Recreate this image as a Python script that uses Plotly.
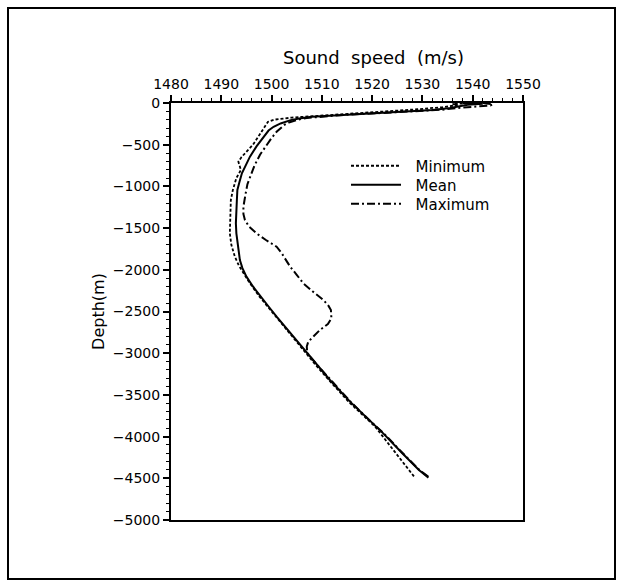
import plotly.graph_objects as go

# ---------------- data ----------------
mean_depth = [0, -10, -20, -40, -60, -85, -105, -125, -145, -165, -185, -205, -245, -285, -330,
              -404, -520, -643, -750, -843, -950, -1043, -1163, -1300, -1443, -1563, -1700,
              -1883, -1980, -2082, -2200, -2322, -2440, -2562, -2700, -2802, -2982, -3150,
              -3321, -3581, -3800, -3961, -4200, -4400, -4492]
mean_speed = [1538, 1542, 1539, 1537, 1535.5, 1532, 1526, 1518, 1512, 1508, 1505.5, 1503.8, 1501.8,
              1500.4, 1499.4, 1498.4, 1497.0, 1495.7, 1494.8, 1494.1, 1493.6, 1493.2, 1493.1,
              1493.0, 1492.9, 1493.0, 1493.3, 1493.7, 1494.2, 1495.0, 1496.3, 1497.8, 1499.4,
              1501.0, 1502.9, 1504.4, 1506.8, 1509.1, 1511.6, 1515.6, 1519.3, 1522.2, 1526.0,
              1529.3, 1531.2]

min_depth = [0, -12, -25, -50, -75, -100, -125, -150, -175, -200, -225, -260, -300, -400, -500,
             -584, -650, -704, -760, -803, -900, -1043, -1163, -1300, -1443, -1563, -1700,
             -1843, -1950, -2042, -2162, -2322, -2440, -2562, -2700, -2802, -2982, -3150,
             -3321, -3581, -3881, -4200, -4492]
min_speed = [1540, 1536, 1537, 1534, 1529, 1523, 1515, 1509, 1504, 1500.5, 1499.3, 1498.9, 1498.5,
             1497.4, 1496.3, 1495.0, 1494.0, 1493.4, 1493.7, 1493.9, 1493.0, 1492.3, 1491.9,
             1491.8, 1491.7, 1491.7, 1492.0, 1492.7, 1493.5, 1494.4, 1495.7, 1497.6, 1499.2,
             1500.8, 1502.7, 1504.2, 1506.6, 1508.9, 1511.4, 1515.3, 1520.6, 1524.7, 1528.5]

max_depth = [0, -15, -30, -45, -60, -80, -100, -120, -140, -160, -180, -200, -230, -260, -300,
             -345, -420, -525, -620, -750, -870, -973, -1100, -1243, -1330, -1403, -1480, -1563,
             -1640, -1723, -1800, -1880, -1963, -2060, -2162, -2260, -2362, -2430, -2482, -2582,
             -2650, -2722, -2800, -2862, -2920, -2962, -3000, -3150, -3321, -3581, -3800, -3961,
             -4200, -4400, -4492]
max_speed = [1542, 1544, 1543.5, 1540, 1537, 1534, 1529, 1522, 1515, 1510, 1507, 1505.2, 1503.6,
             1502.6, 1501.8, 1501.0, 1500.0, 1498.8, 1497.7, 1496.6, 1495.8, 1495.2, 1494.8,
             1494.4, 1494.4, 1494.7, 1495.5, 1497.0, 1498.8, 1501.0, 1502.0, 1502.8, 1503.7,
             1505.0, 1506.3, 1508.2, 1510.3, 1511.3, 1511.8, 1511.9, 1511.2, 1509.6, 1508.3,
             1507.3, 1507.0, 1507.0, 1507.1, 1509.2, 1511.7, 1515.7, 1519.4, 1522.3, 1526.1,
             1529.4, 1531.4]

x_ticks = [1480, 1490, 1500, 1510, 1520, 1530, 1540, 1550]
y_ticks = [0, -500, -1000, -1500, -2000, -2500, -3000, -3500, -4000, -4500, -5000]

FONT = "DejaVu Sans"

# plot-area geometry (px) used to place paper-relative items
PL, PR, PT, PB = 171, 523, 103, 520
W, H = 619, 581
def px(xp):
    return (xp - PL) / (PR - PL)
def py(yp):
    return (PB - yp) / (PB - PT)

fig = go.Figure()
fig.add_trace(go.Scatter(x=min_speed, y=min_depth, mode="lines", name="  Minimum", legend="legend",
                         line=dict(color="black", width=1.8, dash="3px,2px")))
fig.add_trace(go.Scatter(x=mean_speed, y=mean_depth, mode="lines", name="  Mean", legend="legend2",
                         line=dict(color="black", width=2)))
fig.add_trace(go.Scatter(x=max_speed, y=max_depth, mode="lines", name="  Maximum", legend="legend3",
                         line=dict(color="black", width=2, dash="8px,3px,2px,3px")))

leg_common = dict(xanchor="left", yanchor="middle", bgcolor="rgba(0,0,0,0)", borderwidth=0,
                  font=dict(family=FONT, size=15, color="black"), itemwidth=50)

fig.update_layout(
    width=W, height=H,
    margin=dict(l=PL, r=W - PR, t=PT, b=H - PB),
    paper_bgcolor="white", plot_bgcolor="white",
    font=dict(family=FONT, size=14, color="black"),
    showlegend=True,
    legend=dict(x=px(346), y=py(166), **leg_common),
    legend2=dict(x=px(346), y=py(185), **leg_common),
    legend3=dict(x=px(346), y=py(204), **leg_common),
    xaxis=dict(side="top", range=[1480, 1550], tickvals=x_ticks,
               ticktext=[str(v) for v in x_ticks],
               showgrid=False, zeroline=False,
               showline=True, linecolor="black", linewidth=2, mirror=True,
               ticks="outside", ticklen=6, tickwidth=1.6, tickcolor="black",
               minor=dict(dtick=2, ticks="outside", ticklen=3, tickwidth=1.3, tickcolor="black", showgrid=False),
               tickfont=dict(family=FONT, size=14, color="black")),
    yaxis=dict(range=[-5000, 0], tickvals=y_ticks,
               showgrid=False, zeroline=False,
               showline=True, linecolor="black", linewidth=2, mirror=True,
               ticks="outside", ticklen=6, tickwidth=1.6, tickcolor="black",
               minor=dict(dtick=100, ticks="outside", ticklen=3, tickwidth=1.3, tickcolor="black", showgrid=False),
               tickfont=dict(family=FONT, size=14, color="black"),
               title=dict(text="Depth(m)", font=dict(family=FONT, size=16, color="black"), standoff=4)),
)

fig.add_annotation(text="Sound  speed  (m/s)", xref="paper", yref="paper",
                   x=px(373), y=py(57), xanchor="center", yanchor="middle",
                   showarrow=False, font=dict(family=FONT, size=18, color="black"))

# outer frame
fig.add_shape(type="rect", xref="paper", yref="paper",
              x0=px(8), x1=px(615), y0=py(579), y1=py(8),
              line=dict(color="black", width=2), fillcolor="rgba(0,0,0,0)", layer="below")

fig.write_html("out.html")
